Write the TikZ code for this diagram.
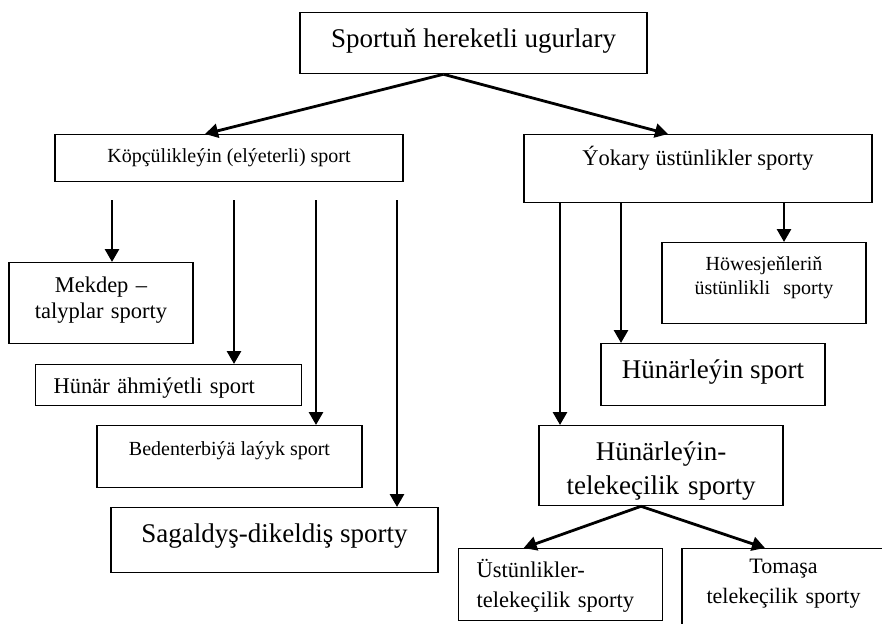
\documentclass[tikz,border=0pt]{standalone}
\usepackage{fontspec}
\setmainfont{Liberation Serif}
\usetikzlibrary{arrows.meta}
\begin{document}
\begin{tikzpicture}[x=1pt,y=-1pt,
  box/.style={draw, line width=1.3pt, inner sep=0pt, rectangle},
  conn/.style={line width=2.8pt, -{Triangle[length=13pt,width=14pt]}},
  fS/.style={font=\fontsize{20}{24}\selectfont},
  fM/.style={font=\fontsize{22.5}{26}\selectfont},
  fL/.style={font=\fontsize{27}{34}\selectfont}
]
\useasboundingbox (0,0) rectangle (882,623);
\clip (0,0) rectangle (882,623);

% boxes
\node[box, fL, anchor=north, minimum width=347pt, text height=35pt, text depth=26pt] (top) at (473.5,12) {Sportuň hereketli ugurlary};
\node[box, fS, anchor=north, minimum width=348pt, text height=28pt, text depth=19pt] (kop) at (229,134) {Köpçülikleýin (elýeterli) sport};
\node[box, fM, anchor=north, minimum width=348pt, text height=31pt, text depth=37pt] (yok) at (698,134) {Ýokary üstünlikler sporty};

\node[box, fM, anchor=north, text width=184pt, align=center, text height=30pt, text depth=51pt] (mek) at (101,262) {Mekdep –\\talyplar sporty};
\node[box, fM, anchor=north west, inner xsep=18pt, text width=230pt, align=left, text height=29pt, text depth=12pt] (hun) at (35,364) {Hünär ähmiýetli sport};
\node[box, fS, anchor=north, minimum width=265pt, text height=30pt, text depth=32pt] (bed) at (229.5,425) {Bedenterbiýä laýyk sport};
\node[box, fL, anchor=north, minimum width=327pt, text height=35pt, text depth=30pt] (sag) at (274.5,507) {Sagaldyş-dikeldiş sporty};

\node[box, fS, anchor=north, text width=204pt, align=center, text height=28pt, text depth=53pt] (how) at (764,242) {Höwesjeňleriň\\üstünlikli\ \ sporty};
\node[box, fL, anchor=north, minimum width=224pt, text height=35pt, text depth=27pt] (huns) at (713,343) {Hünärleýin sport};
\node[box, fL, anchor=north, text width=244pt, align=center, text height=35pt, text depth=45pt] (ht) at (661,425) {Hünärleýin-\\telekeçilik sporty};
\node[box, fM, anchor=north west, inner xsep=18pt, text width=168pt, align=left, font=\fontsize{22.5}{30}\selectfont, text height=29pt, text depth=43pt] (ust) at (458,548) {Üstünlikler-\\telekeçilik sporty};
\node[box, anchor=north, text width=203pt, align=center, font=\fontsize{22}{30}\selectfont, text height=25pt, text depth=52pt] (tom) at (783.5,548) {Tomaşa\\telekeçilik sporty};

% connectors
\draw[conn] ([xshift=-30pt]top.south) -- ([xshift=-24pt]kop.north);
\draw[conn] ([xshift=-30pt]top.south) -- ([xshift=-30pt]yok.north);

\coordinate (l1) at (112,200);
\coordinate (l2) at (234,200);
\coordinate (l3) at (316,200);
\coordinate (l4) at (397,200);
\draw[conn] (l1) -- (l1 |- mek.north);
\draw[conn] (l2) -- (l2 |- hun.north);
\draw[conn] (l3) -- (l3 |- bed.north);
\draw[conn] (l4) -- (l4 |- sag.north);

\coordinate (r1) at (560,0);
\coordinate (r2) at (621,0);
\coordinate (r3) at (784,0);
\draw[conn] (r1 |- yok.south) -- (r1 |- ht.north);
\draw[conn] (r2 |- yok.south) -- (r2 |- huns.north);
\draw[conn] (r3 |- yok.south) -- (r3 |- how.north);

\draw[conn] ([xshift=-20pt]ht.south) -- ([xshift=-37pt]ust.north);
\draw[conn] ([xshift=-20pt]ht.south) -- ([xshift=-18.5pt]tom.north);
\end{tikzpicture}
\end{document}
